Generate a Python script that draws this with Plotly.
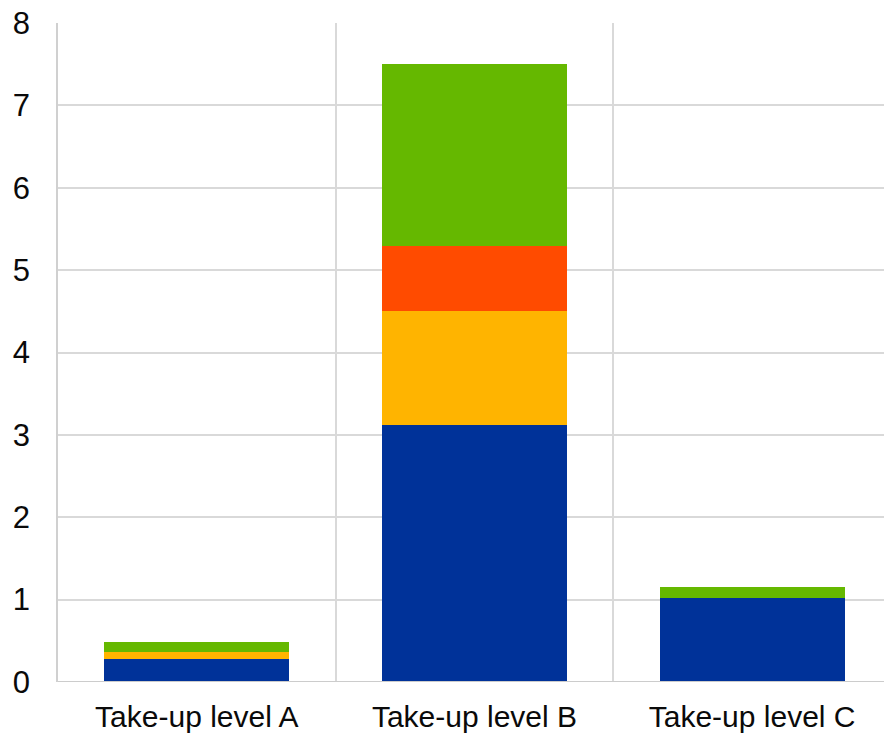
import plotly.graph_objects as go

categories = ["Take-up level A", "Take-up level B", "Take-up level C"]
series_names = ["Series 1", "Series 2", "Series 3", "Series 4"]
series_1 = [0.28, 3.12, 1.02]
series_2 = [0.09, 1.38, 0.0]
series_3 = [0.0, 0.79, 0.0]
series_4 = [0.12, 2.21, 0.13]
colors = ["#003299", "#FFB400", "#FF4B00", "#65B800"]
y_ticks = [0, 1, 2, 3, 4, 5, 6, 7, 8]

fig = go.Figure()
for name, vals, col in zip(series_names, [series_1, series_2, series_3, series_4], colors):
    fig.add_trace(go.Bar(x=categories, y=vals, name=name, marker=dict(color=col, line=dict(width=0)),
                         width=0.667, showlegend=False))

fig.update_layout(
    barmode="stack",
    width=884, height=734,
    margin=dict(l=58, r=0, t=23, b=52),
    paper_bgcolor="white", plot_bgcolor="white",
    font=dict(family="Liberation Sans, Arial, sans-serif", size=30, color="#0a0a0a"),
    xaxis=dict(
        range=[-0.5, 2.475], automargin=False,
        tickson="boundaries",
        showgrid=True, gridcolor="#d9d9d9", gridwidth=1.5,
        ticks="", showline=False, zeroline=False,
        ticklabelstandoff=14,
        tickfont=dict(size=30),
    ),
    yaxis=dict(
        range=[0, 8], tickvals=y_ticks, automargin=False,
        showgrid=True, gridcolor="#d9d9d9", gridwidth=1.5,
        zeroline=False, showline=True, linecolor="#d0d0d0", linewidth=1.5,
        ticks="", ticklabelstandoff=20,
        tickfont=dict(size=31),
    ),
)
fig.add_shape(type="line", xref="paper", yref="y", x0=0, x1=1, y0=0, y1=0,
              line=dict(color="#cccccc", width=2), layer="above")

fig.write_html("out.html", config={"displayModeBar": False},
               post_script="document.body.style.margin='0';document.body.style.overflow='hidden';")
